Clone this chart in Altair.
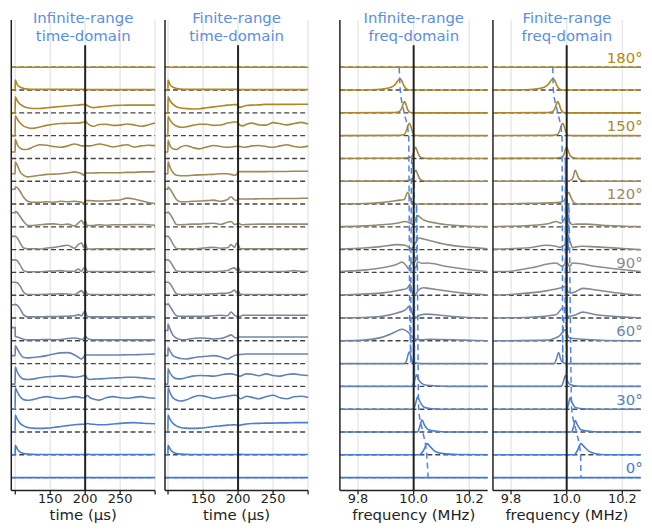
import altair as alt
import pandas as pd

ANGLES = list(range(0, 190, 10))
LABEL_ANGLES = [0, 30, 60, 90, 120, 150, 180]

# time grid (us) shared by both time-domain panels
T = [95, 99.9, 100, 103, 107, 112, 118, 125, 135, 145,
     155, 165, 175, 185, 190, 195, 198, 200, 203, 207,
     212, 220, 230, 240, 250, 260, 270, 280, 290, 300]

Z30 = [0.0] * 30
INF_TIME = [
    Z30,
    [0, 0, 0.42, 0.25, 0.12, 0.06, 0.03, 0.02, 0.015, 0.01, 0.01, 0.01, 0.01, 0.01, 0.01, 0.01, 0.01, 0.02, 0.02, 0.015, 0.01, 0.01, 0.01, 0.01, 0.01, 0.01, 0.01, 0.01, 0.01, 0.01],
    [0, 0, 0.74, 0.55, 0.38, 0.27, 0.2, 0.17, 0.16, 0.17, 0.2, 0.24, 0.28, 0.32, 0.33, 0.34, 0.34, 0.34, 0.37, 0.35, 0.34, 0.32, 0.32, 0.35, 0.38, 0.4, 0.41, 0.39, 0.37, 0.36],
    [0, 0, 0.94, 0.75, 0.55, 0.42, 0.39, 0.42, 0.5, 0.55, 0.5, 0.47, 0.5, 0.55, 0.54, 0.5, 0.5, 0.52, 0.6, 0.5, 0.45, 0.4, 0.5, 0.55, 0.5, 0.48, 0.52, 0.55, 0.5, 0.48],
    [0.1, 0.1, 0.85, 0.62, 0.42, 0.32, 0.3, 0.32, 0.38, 0.42, 0.44, 0.46, 0.44, 0.4, 0.42, 0.45, 0.48, 0.5, 0.35, 0.3, 0.32, 0.33, 0.35, 0.37, 0.38, 0.4, 0.4, 0.38, 0.35, 0.33],
    [0.35, 0.35, 0.78, 0.64, 0.42, 0.27, 0.25, 0.27, 0.3, 0.35, 0.42, 0.47, 0.48, 0.38, 0.28, 0.2, 0.3, 0.38, 0.38, 0.38, 0.38, 0.38, 0.38, 0.38, 0.38, 0.39, 0.39, 0.4, 0.41, 0.42],
    [0.58, 0.58, 0.2, 0.17, 0.12, 0.07, 0.04, 0.04, 0.05, 0.06, 0.05, 0.06, 0.1, 0.12, 0.1, 0.06, 0.1, 0.2, 0.12, 0.06, 0.04, 0.04, 0.04, 0.04, 0.04, 0.04, 0.04, 0.04, 0.04, 0.04],
    [0.58, 0.58, 0.6, 0.55, 0.4, 0.14, 0.05, 0.05, 0.05, 0.06, 0.06, 0.07, 0.08, 0.1, 0.15, 0.1, 0.25, 0.3, 0.08, 0.05, 0.05, 0.05, 0.05, 0.05, 0.05, 0.05, 0.05, 0.06, 0.06, 0.05],
    [0.57, 0.57, 0.57, 0.55, 0.4, 0.13, 0.03, 0.03, 0.03, 0.04, 0.05, 0.06, 0.05, 0.03, 0.12, 0.2, 0.08, 0.22, 0.05, 0.03, 0.03, 0.03, 0.03, 0.03, 0.03, 0.03, 0.03, 0.03, 0.03, 0.03],
    [0.55, 0.55, 0.55, 0.5, 0.32, 0.08, 0.03, 0.03, 0.03, 0.05, 0.06, 0.08, 0.05, 0.05, 0.15, 0.05, 0.2, 0.22, 0.05, 0.04, 0.04, 0.04, 0.04, 0.04, 0.04, 0.04, 0.04, 0.04, 0.04, 0.04],
    [0.58, 0.58, 0.58, 0.51, 0.29, 0.07, 0.04, 0.04, 0.03, 0.07, 0.1, 0.15, 0.19, 0.06, 0.22, 0.29, 0.1, 0.29, 0.04, 0.03, 0.03, 0.04, 0.04, 0.04, 0.04, 0.04, 0.04, 0.04, 0.04, 0.04],
    [0.62, 0.62, 0.67, 0.62, 0.45, 0.23, 0.06, 0.06, 0.09, 0.12, 0.13, 0.09, 0.12, 0.04, 0.16, 0.28, 0.12, 0.26, 0.06, 0.06, 0.06, 0.09, 0.07, 0.09, 0.09, 0.09, 0.1, 0.1, 0.09, 0.07],
    [0.65, 0.65, 0.75, 0.72, 0.55, 0.3, 0.12, 0.08, 0.08, 0.1, 0.08, 0.12, 0.1, 0.12, 0.1, 0.08, 0.02, 0.15, 0.15, 0.15, 0.14, 0.13, 0.14, 0.16, 0.18, 0.26, 0.22, 0.14, 0.07, 0.02],
    [0.33, 0.33, 0.84, 0.7, 0.41, 0.26, 0.19, 0.22, 0.26, 0.3, 0.31, 0.33, 0.36, 0.41, 0.38, 0.33, 0.26, 0.36, 0.36, 0.36, 0.36, 0.37, 0.37, 0.37, 0.37, 0.39, 0.39, 0.41, 0.41, 0.42],
    [0.28, 0.28, 0.84, 0.6, 0.45, 0.39, 0.4, 0.5, 0.6, 0.58, 0.52, 0.49, 0.55, 0.63, 0.6, 0.55, 0.55, 0.57, 0.55, 0.55, 0.58, 0.63, 0.58, 0.5, 0.56, 0.6, 0.5, 0.55, 0.58, 0.56],
    [0, 0, 0.87, 0.72, 0.55, 0.42, 0.35, 0.32, 0.38, 0.45, 0.5, 0.53, 0.54, 0.55, 0.55, 0.57, 0.6, 0.62, 0.55, 0.45, 0.41, 0.49, 0.5, 0.45, 0.46, 0.51, 0.47, 0.41, 0.47, 0.55],
    [0, 0, 0.7, 0.52, 0.38, 0.28, 0.22, 0.19, 0.19, 0.22, 0.25, 0.28, 0.31, 0.33, 0.34, 0.36, 0.36, 0.38, 0.32, 0.26, 0.23, 0.26, 0.29, 0.32, 0.33, 0.34, 0.34, 0.34, 0.34, 0.34],
    [0, 0, 0.44, 0.23, 0.13, 0.07, 0.04, 0.03, 0.03, 0.03, 0.03, 0.03, 0.03, 0.03, 0.03, 0.03, 0.03, 0.03, 0.02, 0.02, 0.02, 0.02, 0.02, 0.02, 0.02, 0.02, 0.02, 0.02, 0.02, 0.02],
    Z30,
]

FIN_TIME = [
    Z30,
    [0, 0, 0.42, 0.25, 0.12, 0.06, 0.03, 0.02, 0.015, 0.01, 0.01, 0.01, 0.01, 0.01, 0.01, 0.01, 0.01, 0.02, 0.02, 0.015, 0.01, 0.01, 0.01, 0.01, 0.01, 0.01, 0.01, 0.01, 0.01, 0.01],
    [0, 0, 0.74, 0.55, 0.38, 0.27, 0.2, 0.17, 0.16, 0.17, 0.2, 0.24, 0.27, 0.3, 0.31, 0.32, 0.31, 0.28, 0.3, 0.33, 0.35, 0.37, 0.38, 0.39, 0.39, 0.4, 0.4, 0.41, 0.41, 0.41],
    [0, 0, 0.94, 0.72, 0.5, 0.4, 0.36, 0.4, 0.52, 0.6, 0.55, 0.47, 0.52, 0.57, 0.6, 0.61, 0.6, 0.55, 0.46, 0.5, 0.57, 0.52, 0.46, 0.55, 0.61, 0.5, 0.46, 0.55, 0.57, 0.51],
    [0.1, 0.1, 0.77, 0.58, 0.42, 0.34, 0.33, 0.38, 0.45, 0.48, 0.47, 0.45, 0.5, 0.55, 0.55, 0.52, 0.5, 0.45, 0.45, 0.5, 0.55, 0.53, 0.47, 0.55, 0.48, 0.45, 0.52, 0.55, 0.5, 0.48],
    [0.35, 0.35, 0.71, 0.55, 0.35, 0.28, 0.22, 0.2, 0.25, 0.3, 0.32, 0.35, 0.3, 0.2, 0.28, 0.35, 0.38, 0.39, 0.4, 0.41, 0.42, 0.42, 0.42, 0.42, 0.42, 0.42, 0.42, 0.42, 0.42, 0.42],
    [0.45, 0.45, 0.73, 0.5, 0.25, 0.12, 0.06, 0.05, 0.1, 0.12, 0.11, 0.08, 0.1, 0.2, 0.26, 0.15, 0.12, 0.17, 0.17, 0.17, 0.17, 0.17, 0.17, 0.17, 0.17, 0.17, 0.17, 0.17, 0.17, 0.17],
    [0.6, 0.6, 0.62, 0.5, 0.3, 0.1, 0.07, 0.07, 0.07, 0.07, 0.08, 0.1, 0.12, 0.1, 0.26, 0.12, 0.08, 0.04, 0.07, 0.12, 0.12, 0.12, 0.12, 0.12, 0.12, 0.12, 0.12, 0.12, 0.12, 0.12],
    [0.57, 0.57, 0.57, 0.5, 0.3, 0.06, 0.03, 0.03, 0.04, 0.04, 0.05, 0.06, 0.08, 0.1, 0.13, 0.23, 0.1, 0.2, 0.05, 0.03, 0.03, 0.03, 0.03, 0.03, 0.03, 0.03, 0.03, 0.03, 0.03, 0.03],
    [0.55, 0.55, 0.55, 0.48, 0.28, 0.06, 0.04, 0.04, 0.04, 0.04, 0.04, 0.04, 0.05, 0.08, 0.16, 0.2, 0.1, 0.25, 0.05, 0.04, 0.04, 0.04, 0.04, 0.04, 0.04, 0.04, 0.05, 0.08, 0.05, 0.04],
    [0.58, 0.58, 0.58, 0.48, 0.25, 0.05, 0.04, 0.04, 0.04, 0.05, 0.08, 0.1, 0.06, 0.08, 0.22, 0.1, 0.29, 0.25, 0.04, 0.04, 0.04, 0.04, 0.04, 0.04, 0.04, 0.04, 0.04, 0.04, 0.04, 0.04],
    [0.62, 0.62, 0.65, 0.55, 0.35, 0.1, 0.09, 0.1, 0.12, 0.12, 0.14, 0.16, 0.1, 0.2, 0.23, 0.1, 0.12, 0.16, 0.12, 0.09, 0.1, 0.11, 0.12, 0.12, 0.12, 0.12, 0.12, 0.12, 0.12, 0.12],
    [0.65, 0.65, 0.75, 0.65, 0.45, 0.2, 0.1, 0.1, 0.12, 0.13, 0.15, 0.17, 0.12, 0.2, 0.32, 0.18, 0.15, 0.25, 0.22, 0.22, 0.22, 0.22, 0.23, 0.23, 0.23, 0.24, 0.24, 0.24, 0.25, 0.25],
    [0.33, 0.33, 0.85, 0.6, 0.38, 0.26, 0.24, 0.24, 0.26, 0.28, 0.29, 0.3, 0.33, 0.33, 0.3, 0.26, 0.3, 0.41, 0.42, 0.42, 0.42, 0.42, 0.42, 0.42, 0.43, 0.43, 0.43, 0.44, 0.44, 0.44],
    [0.28, 0.28, 0.8, 0.55, 0.42, 0.39, 0.5, 0.57, 0.48, 0.42, 0.5, 0.57, 0.52, 0.49, 0.5, 0.52, 0.53, 0.54, 0.52, 0.49, 0.5, 0.55, 0.57, 0.52, 0.49, 0.55, 0.6, 0.52, 0.49, 0.54],
    [0, 0, 0.84, 0.68, 0.52, 0.42, 0.37, 0.38, 0.45, 0.5, 0.5, 0.45, 0.47, 0.55, 0.58, 0.6, 0.6, 0.55, 0.45, 0.43, 0.5, 0.55, 0.47, 0.46, 0.57, 0.52, 0.47, 0.53, 0.58, 0.51],
    [0, 0, 0.7, 0.52, 0.38, 0.27, 0.21, 0.19, 0.17, 0.18, 0.22, 0.26, 0.3, 0.34, 0.35, 0.36, 0.36, 0.3, 0.24, 0.28, 0.32, 0.34, 0.35, 0.37, 0.37, 0.37, 0.37, 0.37, 0.38, 0.38],
    [0, 0, 0.44, 0.23, 0.13, 0.07, 0.04, 0.03, 0.03, 0.03, 0.03, 0.03, 0.03, 0.03, 0.03, 0.03, 0.03, 0.03, 0.02, 0.02, 0.02, 0.02, 0.02, 0.02, 0.02, 0.02, 0.02, 0.02, 0.02, 0.02],
    Z30,
]

FLAT = [[9.735, 0], [10.265, 0]]
INF_FREQ = [
    FLAT,
    [[9.735, 0], [10.02, 0], [10.036, 0.2], [10.048, 0.49], [10.06, 0.35], [10.077, 0.15], [10.107, 0.05], [10.155, 0.01], [10.265, 0]],
    [[9.735, 0], [10.014, 0], [10.021, 0.2], [10.03, 0.52], [10.039, 0.3], [10.053, 0.1], [10.083, 0.03], [10.12, 0], [10.265, 0]],
    [[9.735, 0], [10.0, 0], [10.007, 0.25], [10.014, 0.54], [10.024, 0.3], [10.036, 0.1], [10.06, 0.03], [10.095, 0], [10.265, 0]],
    [[9.735, 0], [9.994, 0], [10.002, 0.2], [10.01, 0.51], [10.018, 0.3], [10.03, 0.12], [10.048, 0.05], [10.083, 0.02], [10.12, 0], [10.265, 0]],
    [[9.735, 0], [9.964, 0], [9.974, 0.1], [9.98, 0.4], [9.985, 0.52], [9.99, 0.3], [9.997, 0.06], [10.007, 0.04], [10.03, 0], [10.265, 0]],
    [[9.735, 0], [9.821, 0.03], [9.881, 0.14], [9.929, 0.36], [9.958, 0.51], [9.982, 0.36], [10.0, 0.12], [10.024, 0.04], [10.06, 0.07], [10.18, 0.03], [10.265, 0]],
    [[9.735, 0], [9.881, 0.07], [9.94, 0.22], [9.97, 0.36], [9.985, 0.51], [9.997, 0.15], [10.01, 0.03], [10.021, 0.12], [10.048, 0.17], [10.095, 0.12], [10.179, 0.03], [10.265, 0]],
    [[9.735, 0.01], [9.881, 0.09], [9.952, 0.23], [9.976, 0.3], [9.988, 0.48], [9.994, 0.16], [10.002, 0.0], [10.01, 0.09], [10.018, 0.23], [10.036, 0.33], [10.054, 0.3], [10.095, 0.23], [10.179, 0.09], [10.265, 0.01]],
    [[9.735, 0.04], [9.821, 0.1], [9.881, 0.19], [9.94, 0.36], [9.958, 0.45], [9.973, 0.3], [9.982, 0.16], [9.994, 0.46], [10.002, 0.25], [10.008, 0.2], [10.014, 0.46], [10.03, 0.4], [10.048, 0.41], [10.119, 0.26], [10.202, 0.12], [10.265, 0.04]],
    [[9.735, 0.03], [9.821, 0.07], [9.881, 0.13], [9.94, 0.22], [9.97, 0.19], [9.982, 0.1], [9.992, 0.04], [10.0, 0.15], [10.01, 0.36], [10.018, 0.51], [10.036, 0.47], [10.06, 0.39], [10.119, 0.22], [10.202, 0.1], [10.265, 0.04]],
    [[9.735, 0.01], [9.821, 0.04], [9.881, 0.09], [9.94, 0.16], [9.97, 0.23], [9.988, 0.16], [9.998, 0.09], [10.006, 0.3], [10.014, 0.49], [10.024, 0.41], [10.036, 0.3], [10.083, 0.16], [10.155, 0.06], [10.265, 0.01]],
    [[9.735, 0], [9.821, 0.02], [9.88, 0.06], [9.92, 0.12], [9.952, 0.17], [9.967, 0.2], [9.972, 0.35], [9.979, 0.51], [9.985, 0.35], [9.994, 0.1], [10.002, 0.02], [10.012, 0], [10.265, 0]],
    [[9.735, 0], [9.95, 0.01], [9.99, 0.05], [9.999, 0.2], [10.004, 0.42], [10.008, 0.48], [10.013, 0.35], [10.021, 0.12], [10.031, 0.03], [10.05, 0], [10.265, 0]],
    [[9.735, 0], [9.95, 0.01], [9.99, 0.05], [9.998, 0.2], [10.003, 0.42], [10.007, 0.49], [10.012, 0.35], [10.02, 0.12], [10.03, 0.03], [10.05, 0], [10.265, 0]],
    [[9.735, 0], [9.94, 0.01], [9.965, 0.05], [9.975, 0.25], [9.981, 0.48], [9.985, 0.54], [9.99, 0.4], [9.996, 0.15], [10.005, 0.02], [10.02, 0], [10.265, 0]],
    [[9.735, 0], [9.92, 0.01], [9.945, 0.04], [9.955, 0.15], [9.962, 0.38], [9.967, 0.49], [9.972, 0.38], [9.978, 0.15], [9.986, 0.03], [10.0, 0], [10.265, 0]],
    [[9.735, 0], [9.85, 0.01], [9.88, 0.03], [9.905, 0.08], [9.925, 0.16], [9.937, 0.3], [9.945, 0.44], [9.951, 0.49], [9.957, 0.42], [9.964, 0.22], [9.973, 0.06], [9.985, 0], [10.265, 0]],
    FLAT,
]

FIN_FREQ = [
    FLAT,
    [[9.735, 0], [10.027, 0], [10.039, 0.2], [10.051, 0.49], [10.063, 0.35], [10.081, 0.15], [10.105, 0.05], [10.14, 0], [10.265, 0]],
    [[9.735, 0], [10.017, 0], [10.024, 0.2], [10.031, 0.5], [10.039, 0.3], [10.051, 0.1], [10.081, 0.03], [10.12, 0], [10.265, 0]],
    [[9.735, 0], [10.0, 0], [10.006, 0.2], [10.012, 0.5], [10.019, 0.3], [10.031, 0.08], [10.057, 0.02], [10.09, 0], [10.265, 0]],
    [[9.735, 0], [9.98, 0], [9.988, 0.2], [9.995, 0.48], [10.002, 0.25], [10.012, 0.08], [10.033, 0.02], [10.06, 0], [10.265, 0]],
    [[9.735, 0], [9.955, 0], [9.963, 0.2], [9.971, 0.49], [9.978, 0.2], [9.986, 0.05], [9.998, 0], [10.265, 0]],
    [[9.735, 0], [9.926, 0.03], [9.974, 0.22], [9.994, 0.48], [10.01, 0.12], [10.057, 0.07], [10.224, 0], [10.265, 0]],
    [[9.735, 0], [9.867, 0.03], [9.962, 0.14], [9.986, 0.44], [9.993, 0.44], [10.004, 0.07], [10.033, 0.14], [10.057, 0.26], [10.105, 0.14], [10.224, 0.03], [10.265, 0]],
    [[9.735, 0], [9.807, 0.04], [9.926, 0.19], [9.98, 0.33], [9.994, 0.38], [10.0, 0.23], [10.015, 0.09], [10.033, 0.16], [10.057, 0.3], [10.105, 0.23], [10.224, 0.04], [10.265, 0]],
    [[9.735, 0.04], [9.784, 0.04], [9.867, 0.19], [9.962, 0.41], [9.986, 0.26], [10.0, 0.48], [10.01, 0.26], [10.021, 0.41], [10.105, 0.26], [10.265, 0.04]],
    [[9.735, 0.02], [9.771, 0.03], [9.867, 0.08], [9.926, 0.19], [9.962, 0.15], [9.974, 0.1], [9.992, 0.2], [10.0, 0.39], [10.01, 0.39], [10.021, 0.08], [10.033, 0.12], [10.057, 0.15], [10.105, 0.12], [10.2, 0.05], [10.265, 0.0]],
    [[9.735, 0.01], [9.771, 0.02], [9.867, 0.06], [9.938, 0.15], [9.962, 0.23], [9.98, 0.16], [9.99, 0.3], [10.0, 0.52], [10.01, 0.25], [10.019, 0.1], [10.039, 0.12], [10.069, 0.12], [10.14, 0.06], [10.265, 0.01]],
    [[9.735, 0], [9.867, 0.03], [9.962, 0.06], [9.986, 0.1], [9.998, 0.3], [10.007, 0.51], [10.015, 0.3], [10.027, 0.05], [10.045, 0], [10.265, 0]],
    [[9.735, 0], [10.0, 0], [10.015, 0.05], [10.024, 0.2], [10.028, 0.42], [10.031, 0.48], [10.036, 0.35], [10.044, 0.12], [10.055, 0.03], [10.075, 0], [10.265, 0]],
    [[9.735, 0], [9.95, 0.01], [9.983, 0.05], [9.991, 0.2], [9.996, 0.42], [10.0, 0.49], [10.005, 0.35], [10.013, 0.12], [10.023, 0.03], [10.04, 0], [10.265, 0]],
    [[9.735, 0], [9.94, 0.01], [9.966, 0.05], [9.976, 0.25], [9.982, 0.48], [9.986, 0.54], [9.991, 0.4], [9.997, 0.15], [10.006, 0.02], [10.02, 0], [10.265, 0]],
    [[9.735, 0], [9.92, 0.01], [9.946, 0.04], [9.956, 0.15], [9.963, 0.38], [9.968, 0.49], [9.973, 0.38], [9.979, 0.15], [9.987, 0.03], [10.0, 0], [10.265, 0]],
    [[9.735, 0], [9.85, 0.01], [9.88, 0.03], [9.905, 0.08], [9.925, 0.16], [9.937, 0.3], [9.945, 0.44], [9.951, 0.49], [9.957, 0.42], [9.964, 0.22], [9.973, 0.06], [9.985, 0], [10.265, 0]],
    FLAT,
]

# resonance frequency (MHz) per angle, blue dashed guide
RES_INF = [10.052, 10.047, 10.033, 10.018, 10.003, 9.99, 9.988, 9.986, 9.99, 10.003,
           10.01, 10.012, 10.01, 10.002, 9.993, 9.982, 9.966, 9.952, 9.948]
RES_FIN = [10.051, 10.05, 10.035, 10.018, 10.0, 9.986, 9.986, 9.99, 9.995, 10.0,
           10.005, 10.007, 10.007, 10.0, 9.995, 9.983, 9.968, 9.952, 9.95]

TIME_TICKS = [100, 150, 200, 250, 300]
TIME_TICK_LABELS = ["", "150", "200", "250", ""]
FREQ_TICKS = [9.8, 10.0, 10.2]
FREQ_TICK_LABELS = ["9.8", "10.0", "10.2"]

for rows in (INF_TIME, FIN_TIME):
    assert len(rows) == 19 and all(len(r) == 30 for r in rows)

# ---------- styles / layout ----------
FONT = "DejaVu Sans"
TITLE_C = "#5a8ee6"
INK = "#222222"
BLUE, GRAY, GOLD = (61, 122, 224), (140, 140, 140), (184, 134, 11)


def _mix(a, b, t):
    return "#%02x%02x%02x" % tuple(round(a[i] + (b[i] - a[i]) * t) for i in range(3))


COLORS = [_mix(BLUE, GRAY, a / 90) if a <= 90 else _mix(GRAY, GOLD, (a - 90) / 90) for a in ANGLES]

W, HT = 636, 515
YDOM = [-0.57, 20.07]
YRANGE = [483, 9.5]           # pixel range of the shared offset axis
Y_TICK_END = -0.745
Y_TICKLABEL = -0.93
Y_AXTITLE = -1.64
Y_TITLE1, Y_TITLE2 = 20.18, 19.39
Y_VTOP = 18.96

YS = alt.Scale(domain=YDOM, range=YRANGE, nice=False, zero=False)
COLOR = alt.Color("angle:O", scale=alt.Scale(domain=ANGLES, range=COLORS), legend=None)


def time_df(rows):
    return pd.DataFrame([{"x": t, "y": a / 10 + v, "angle": a}
                         for a, vals in zip(ANGLES, rows) for t, v in zip(T, vals)])


def freq_df(rows):
    return pd.DataFrame([{"x": f, "y": a / 10 + v, "angle": a}
                         for a, pts in zip(ANGLES, rows) for f, v in pts])


def panel_layers(df, dom, rng, vx, title_lines, axis_title, ticks, tick_labels,
                 res=None, labels=False, label_x=None):
    X = alt.X("x:Q", scale=alt.Scale(domain=dom, range=rng, nice=False, zero=False), axis=None)
    Y = alt.Y("y:Q", scale=YS, axis=None)
    L = []
    grid = pd.DataFrame({"x": ticks, "y": [YDOM[0]] * len(ticks), "y2": [YDOM[1]] * len(ticks)})
    L.append(alt.Chart(grid).mark_rule(color="#e8e8e8", strokeWidth=1.5).encode(x=X, y=Y, y2="y2:Q"))
    base_df = pd.DataFrame([{"x": d, "y": a / 10, "angle": a} for a in ANGLES for d in dom])
    L.append(alt.Chart(base_df).mark_line(color="#444", strokeWidth=1.4, strokeDash=[5, 3]).encode(
        x=X, y=Y, detail="angle:N"))
    L.append(alt.Chart(df).mark_line(strokeWidth=1.6, interpolate="monotone").encode(
        x=X, y=Y, color=COLOR, detail="angle:N"))
    if res is not None:
        rdf = pd.DataFrame({"x": res, "y": [a / 10 for a in ANGLES]})
        L.append(alt.Chart(rdf).mark_line(color="#4a86e8", strokeWidth=1.5, strokeDash=[6, 4],
                                          interpolate="monotone").encode(x=X, y=Y))
    vdf = pd.DataFrame({"x": [vx], "y": [YDOM[0]], "y2": [Y_VTOP]})
    L.append(alt.Chart(vdf).mark_rule(color=INK, strokeWidth=2).encode(x=X, y=Y, y2="y2:Q"))
    # axis lines and ticks
    left = pd.DataFrame({"x": [dom[0]], "y": [YDOM[0]], "y2": [YDOM[1]]})
    L.append(alt.Chart(left).mark_rule(color=INK, strokeWidth=1.5).encode(x=X, y=Y, y2="y2:Q"))
    bottom = pd.DataFrame({"x": [dom[0]], "x2": [dom[1]], "y": [YDOM[0]]})
    L.append(alt.Chart(bottom).mark_rule(color=INK, strokeWidth=1.5).encode(x=X, x2="x2:Q", y=Y))
    tk = pd.DataFrame({"x": ticks, "y": [YDOM[0]] * len(ticks), "y2": [Y_TICK_END] * len(ticks)})
    L.append(alt.Chart(tk).mark_rule(color=INK, strokeWidth=1.3).encode(x=X, y=Y, y2="y2:Q"))
    tl = pd.DataFrame({"x": ticks, "y": [Y_TICKLABEL] * len(ticks), "text": tick_labels})
    L.append(alt.Chart(tl).mark_text(fontSize=13, font=FONT, color=INK).encode(x=X, y=Y, text="text:N"))
    mid = (dom[0] + dom[1]) / 2
    at = pd.DataFrame({"x": [mid], "y": [Y_AXTITLE], "text": [axis_title]})
    L.append(alt.Chart(at).mark_text(fontSize=15, font=FONT, color=INK).encode(x=X, y=Y, text="text:N"))
    tt = pd.DataFrame({"x": [mid, mid], "y": [Y_TITLE1, Y_TITLE2], "text": title_lines})
    L.append(alt.Chart(tt).mark_text(fontSize=15, font=FONT, color=TITLE_C).encode(x=X, y=Y, text="text:N"))
    if labels:
        ldf = pd.DataFrame({"x": [label_x] * len(LABEL_ANGLES),
                            "y": [a / 10 + 0.2 for a in LABEL_ANGLES],
                            "angle": LABEL_ANGLES,
                            "text": ["%d°" % a for a in LABEL_ANGLES]})
        L.append(alt.Chart(ldf).mark_text(fontSize=15, font=FONT, align="right",
                                          baseline="alphabetic").encode(
            x=X, y=Y, text="text:N", color=COLOR))
    return L


layers = []
layers += panel_layers(time_df(INF_TIME), [94.3, 300], [0.3, 145], 200,
                       ["Infinite-range", "time-domain"], "time (μs)", TIME_TICKS, TIME_TICK_LABELS)
layers += panel_layers(time_df(FIN_TIME), [95.7, 300], [155, 299], 200,
                       ["Finite-range", "time-domain"], "time (μs)", TIME_TICKS, TIME_TICK_LABELS)
layers += panel_layers(freq_df(INF_FREQ), [9.735, 10.266], [331, 479.7], 10.0,
                       ["Infinite-range", "freq-domain"], "frequency (MHz)", FREQ_TICKS, FREQ_TICK_LABELS,
                       res=RES_INF)
layers += panel_layers(freq_df(FIN_FREQ), [9.735, 10.266], [485, 633.7], 10.0,
                       ["Finite-range", "freq-domain"], "frequency (MHz)", FREQ_TICKS, FREQ_TICK_LABELS,
                       res=RES_FIN, labels=True, label_x=10.273)

chart = (
    alt.layer(*layers)
    .resolve_scale(x="independent")
    .properties(width=W, height=HT, padding=0)
    .configure_view(stroke=None)
)

chart.save("out.html", embed_options={"renderer": "svg", "actions": False})
